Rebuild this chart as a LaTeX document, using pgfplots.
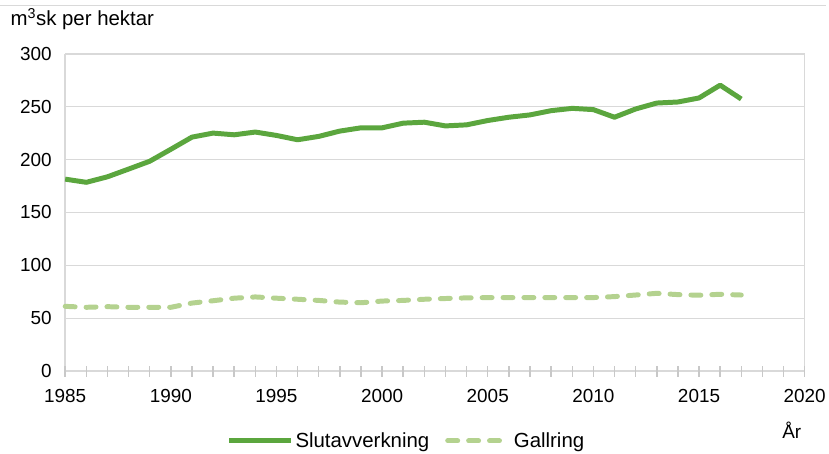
\documentclass[border=0pt]{standalone}
\usepackage{fontspec}
\setmainfont{Liberation Sans}
\usepackage{pgfplots}
\pgfplotsset{compat=1.18}
\definecolor{slut}{HTML}{5BA63E}
\definecolor{gall}{HTML}{B4D28F}
\definecolor{gridgray}{HTML}{D9D9D9}
\definecolor{tickgray}{HTML}{C8C8C8}

\begin{document}
\begin{tikzpicture}
\begin{axis}[name=ax, at={(0,0)}, anchor=south west,
  scale only axis, width=743pt, height=319pt,
  xmin=1985, xmax=2020, ymin=0, ymax=300,
  xtick={1985,1990,...,2020},
  ytick={0,50,...,300},
  axis x line*=bottom, axis y line*=left,
  ymajorgrids, grid style={gridgray, line width=1.6pt},
  axis line style={gridgray, line width=1.6pt, -},
  xtick style={draw=none}, ytick style={draw=none},
  font=\fontsize{19}{22}\selectfont,
  ticklabel style={font=\fontsize{19}{22}\selectfont},
  /pgf/number format/assume math mode=true,
  /pgf/number format/1000 sep={},
  xticklabel style={yshift=-15pt},
  yticklabel style={xshift=-10pt},
  clip=false,
  legend columns=2,
  legend style={at={(axis description cs:0.4616,0)}, anchor=center, yshift=-70pt,
    draw=none, fill=none, font=\fontsize{20.5}{24}\selectfont,
    /tikz/every even column/.append style={column sep=14pt}},
  legend image code/.code={\draw[#1] (0pt,0pt) -- (62pt,0pt);},
]
\addplot[slut, line width=5pt, line join=round] coordinates {
(1985,181.5)(1986,178.5)(1987,183.7)(1988,191)(1989,198.4)(1990,209.7)
(1991,221.2)(1992,225)(1993,223.4)(1994,226)(1995,222.8)(1996,218.7)
(1997,221.9)(1998,226.9)(1999,230)(2000,230)(2001,234.4)(2002,235.3)
(2003,231.8)(2004,232.8)(2005,236.9)(2006,240)(2007,242.2)(2008,246.2)
(2009,248.4)(2010,247.2)(2011,240)(2012,247.8)(2013,253.4)(2014,254.4)
(2015,258.2)(2016,270.3)(2017,257.2)};
\addlegendentry{Slutavverkning}
\addplot[gall, line width=5pt, line cap=round, line join=round, dash pattern=on 10pt off 11pt] coordinates {
(1985,61.3)(1986,60.4)(1987,61)(1988,60.4)(1989,60.4)(1990,60.4)
(1991,64.4)(1992,66.6)(1993,69)(1994,70.2)(1995,69)(1996,68)
(1997,66.9)(1998,65.3)(1999,64.7)(2000,66.3)(2001,66.9)(2002,68)
(2003,68.7)(2004,69.3)(2005,69.6)(2006,69.6)(2007,69.6)(2008,69.6)
(2009,69.6)(2010,69.6)(2011,70.5)(2012,72)(2013,73.6)(2014,72.4)
(2015,71.8)(2016,72.7)(2017,72)};
\addlegendentry{Gallring}
\end{axis}
% frame on the right and year ticks along the x axis
\draw[gridgray, line width=1.6pt] (ax.south east) -- (ax.north east);
\foreach \i in {0,...,35}
  \draw[tickgray, line width=1.5pt] ([xshift=\i*21.22857pt, yshift=-5.5pt]ax.south west) -- ++(0,11pt);
\draw[gridgray, line width=1pt] ([xshift=-65pt,yshift=48pt]ax.north west) -- ([xshift=21pt,yshift=48pt]ax.north east);
\node[anchor=west, inner sep=0pt, font=\fontsize{20.5}{24}\selectfont] at ([xshift=-55pt,yshift=35pt]ax.north west) {m\textsuperscript{3}sk per hektar};
\node[font=\fontsize{19}{22}\selectfont] at ([xshift=-13pt,yshift=-59pt]ax.south east) {År};
\path[use as bounding box] ([xshift=-65pt,yshift=-77pt]ax.south west) rectangle ([xshift=21pt,yshift=54pt]ax.north east);
\end{tikzpicture}
\end{document}
